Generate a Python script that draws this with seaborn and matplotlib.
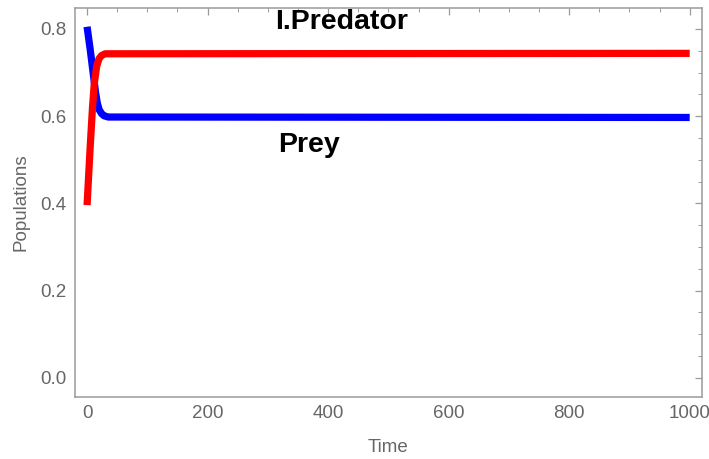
import numpy as np
import pandas as pd
import matplotlib
matplotlib.use("Agg")
import matplotlib.pyplot as plt
import seaborn as sns
from matplotlib.ticker import MultipleLocator

# Prey and predator populations over time
prey_time = [0, 5, 10, 14, 17, 20, 24, 28, 35, 1000]
prey_pop = [0.805, 0.755, 0.70, 0.655, 0.63, 0.615, 0.606, 0.601, 0.598, 0.597]

pred_time = [0, 5, 9, 12, 16, 20, 24, 30, 1000]
pred_pop = [0.396, 0.525, 0.62, 0.675, 0.715, 0.732, 0.739, 0.743, 0.744]

x_ticks = [0, 200, 400, 600, 800, 1000]
y_ticks = [0.0, 0.2, 0.4, 0.6, 0.8]

sns.set_theme(style="white")
plt.rcParams["font.family"] = ["Liberation Sans", "DejaVu Sans"]

fig = plt.figure(figsize=(7.09, 4.59), dpi=100)
ax = fig.add_axes([0.1058, 0.135, 0.884, 0.8476])

prey_df = pd.DataFrame({"Time": prey_time, "Populations": prey_pop})
pred_df = pd.DataFrame({"Time": pred_time, "Populations": pred_pop})

sns.lineplot(data=prey_df, x="Time", y="Populations", ax=ax, color="#0000ff",
             linewidth=5.2, solid_capstyle="butt")
sns.lineplot(data=pred_df, x="Time", y="Populations", ax=ax, color="#ff0000",
             linewidth=5.2, solid_capstyle="butt")

ax.set_xlim(-20, 1020)
ax.set_ylim(-0.044, 0.848)
ax.set_xticks(x_ticks)
ax.set_yticks(y_ticks)
ax.set_xticklabels([str(t) for t in x_ticks])
ax.set_yticklabels([f"{t:.1f}" for t in y_ticks])
ax.xaxis.set_minor_locator(MultipleLocator(50))
ax.yaxis.set_minor_locator(MultipleLocator(0.05))

frame_col = "#9a9a9a"
text_col = "#666666"
for s in ax.spines.values():
    s.set_color(frame_col)
    s.set_linewidth(1.1)
ax.tick_params(which="both", direction="in", top=True, right=True,
               color=frame_col, labelcolor=text_col, labelsize=13.5)
ax.tick_params(which="major", length=5, width=0.9, pad=6)
ax.tick_params(which="minor", length=3, width=0.7)

ax.set_xlabel("Time", color=text_col, fontsize=13.5, labelpad=12)
ax.set_ylabel("Populations", color=text_col, fontsize=13.5, labelpad=8)

ax.text(423, 0.816, "I.Predator", ha="center", va="center",
        fontsize=20.5, fontweight="bold", color="black")
ax.text(368, 0.534, "Prey", ha="center", va="center",
        fontsize=20.5, fontweight="bold", color="black")

fig.savefig("out.png", dpi=100)
